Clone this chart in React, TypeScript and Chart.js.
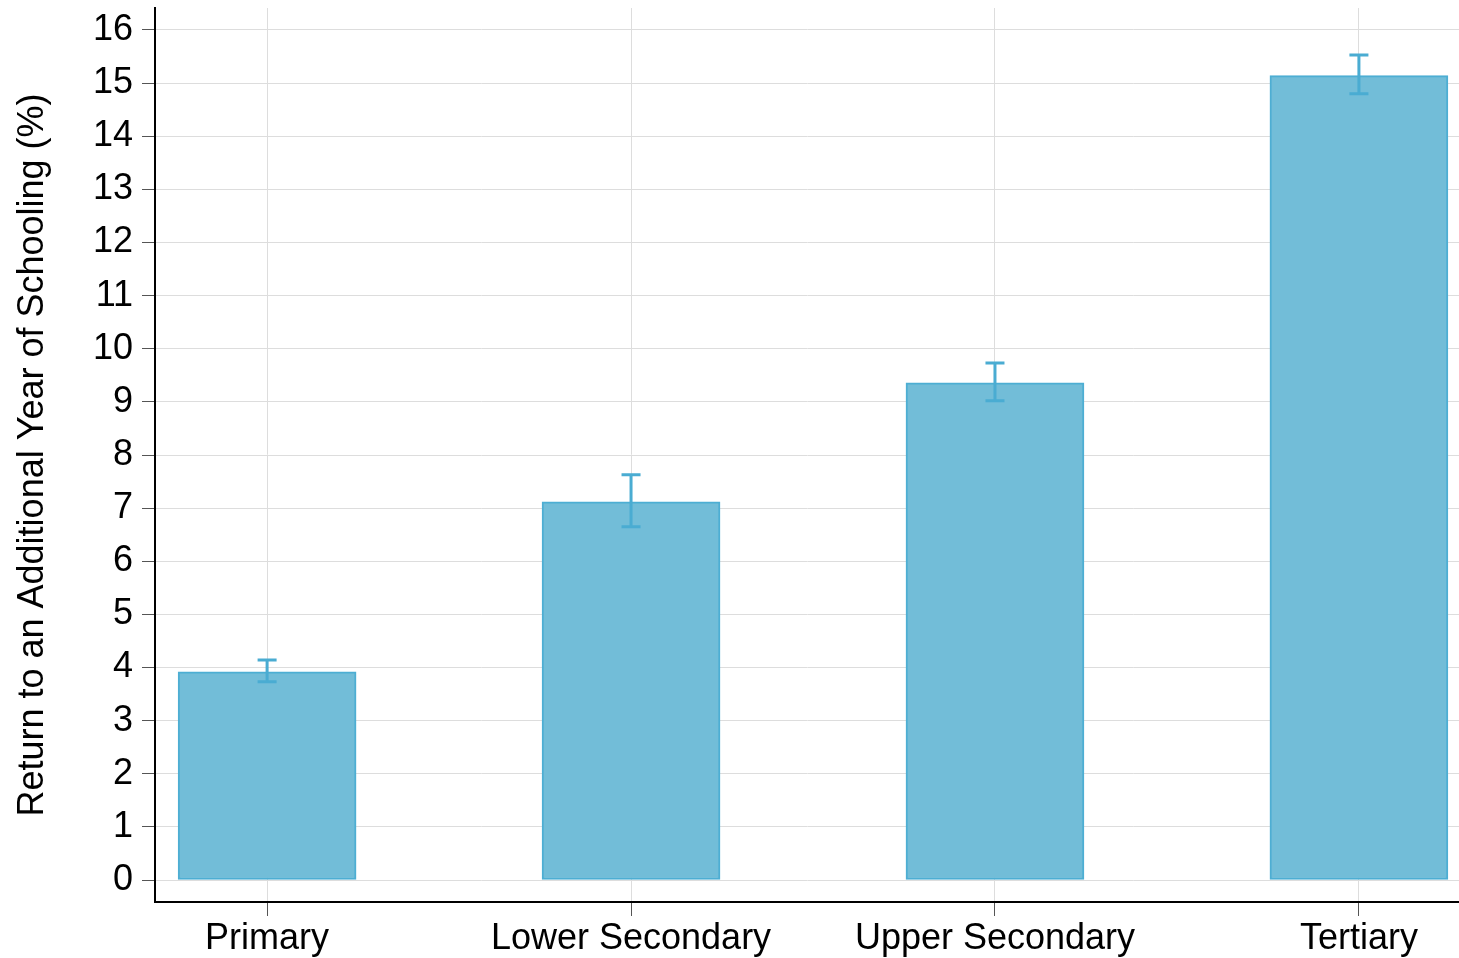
import React, { useEffect, useRef } from "react";
import { Chart, registerables } from "chart.js";

Chart.register(...registerables);

const categories = ["Primary", "Lower Secondary", "Upper Secondary", "Tertiary"];
const returns = [3.92, 7.12, 9.36, 15.14];
const ciLow = [3.73, 6.65, 9.02, 14.8];
const ciHigh = [4.14, 7.63, 9.73, 15.53];
const yTicks = [0, 1, 2, 3, 4, 5, 6, 7, 8, 9, 10, 11, 12, 13, 14, 15, 16];

const FONT = "'Liberation Sans', Arial, sans-serif";
const BAR_FILL = "#72BDD8";
const BAR_EDGE = "#4DAED3";
const GRID = "#dddddd";
const TICK = "#555555";

const errorBarPlugin = {
  id: "errorBars",
  afterDatasetsDraw(chart: any) {
    const { ctx, scales } = chart;
    const xs = scales.x;
    const ys = scales.y;
    ctx.save();
    ctx.strokeStyle = "#4AACD2";
    ctx.lineWidth = 3;
    const cap = 9.5;
    categories.forEach((_, i) => {
      const x = xs.getPixelForValue(i);
      const yl = ys.getPixelForValue(ciLow[i]);
      const yh = ys.getPixelForValue(ciHigh[i]);
      ctx.beginPath();
      ctx.moveTo(x, yl);
      ctx.lineTo(x, yh);
      ctx.moveTo(x - cap, yl);
      ctx.lineTo(x + cap, yl);
      ctx.moveTo(x - cap, yh);
      ctx.lineTo(x + cap, yh);
      ctx.stroke();
    });
    ctx.restore();
  },
};

export default function App() {
  const ref = useRef<HTMLCanvasElement>(null);
  useEffect(() => {
    if (!ref.current) return;
    const chart = new Chart(ref.current, {
      type: "bar",
      data: {
        datasets: [
          {
            data: returns.map((v, i) => ({ x: i, y: v })),
            backgroundColor: BAR_FILL,
            borderColor: BAR_EDGE,
            borderWidth: 2,
            borderSkipped: false,
            barThickness: 178,
          },
        ],
      },
      options: {
        animation: false,
        responsive: false,
        maintainAspectRatio: false,
        layout: { padding: { top: 8, right: 0, left: 0, bottom: 0 } },
        plugins: {
          legend: { display: false },
          tooltip: { enabled: false },
        },
        scales: {
          x: {
            type: "linear",
            offset: false,
            min: -0.308,
            max: 3.275,
            afterBuildTicks: (s: any) => {
              s.ticks = categories.map((_, i) => ({ value: i }));
            },
            afterFit: (s: any) => {
              s.height = 56;
              s.paddingLeft = 0;
              s.paddingRight = 0;
            },
            ticks: {
              callback: (v: any) => categories[v as number] ?? "",
              font: { family: FONT, size: 36 },
              color: "#000",
              padding: 1,
              maxRotation: 0,
              autoSkip: false,
            },
            grid: {
              offset: false,
              color: GRID,
              lineWidth: 1,
              tickColor: TICK,
              tickLength: 14,
              drawTicks: true,
            },
            border: { display: true, color: "#000", width: 2 },
          },
          y: {
            type: "linear",
            min: -0.414,
            max: 16.414,
            afterBuildTicks: (s: any) => {
              s.ticks = yTicks.map((v) => ({ value: v }));
            },
            afterFit: (s: any) => {
              s.width = 155;
              s.paddingTop = 0;
              s.paddingBottom = 0;
            },
            ticks: {
              font: { family: FONT, size: 36 },
              color: "#000",
              padding: 9,
            },
            grid: {
              color: GRID,
              lineWidth: 1,
              tickColor: TICK,
              tickLength: 13,
              drawTicks: true,
            },
            border: { display: true, color: "#000", width: 2 },
            title: {
              display: true,
              text: "Return to an Additional Year of Schooling (%)",
              font: { family: FONT, size: 36 },
              color: "#000",
              padding: { top: 11, bottom: 0 },
            },
          },
        },
      },
      plugins: [errorBarPlugin],
    });
    return () => chart.destroy();
  }, []);
  return (
    <div style={{ position: "fixed", left: 0, top: 0, width: 1459, height: 958, background: "#fff" }}>
      <canvas ref={ref} width={1459} height={958} style={{ width: 1459, height: 958 }} />
    </div>
  );
}
